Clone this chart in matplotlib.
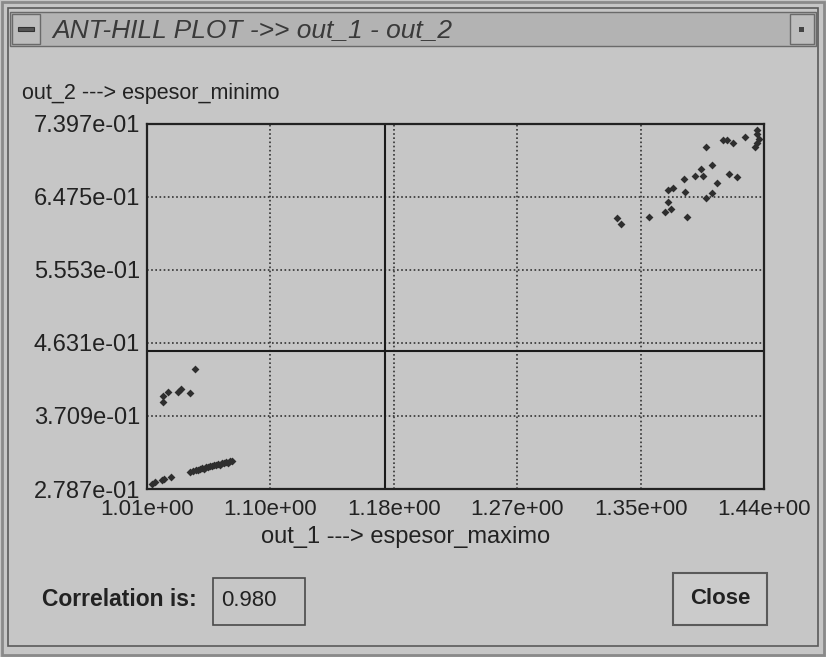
#!/usr/bin/env python3
"""
Ant-hill plot window: out_1 vs out_2 scatter
"""

import matplotlib
matplotlib.use('Agg')
import matplotlib.pyplot as plt
from matplotlib.patches import Rectangle
import numpy as np

# espesor_maximo (out_1) and espesor_minimo (out_2)
out_1 = [
    # lower-left group
    1.0135, 1.0156, 1.0205, 1.0218, 1.0267,
    1.0400, 1.0421, 1.0442, 1.0455, 1.0469, 1.0483, 1.0497, 1.0511, 1.0525,
    1.0539, 1.0553, 1.0567, 1.0581, 1.0595, 1.0609, 1.0623, 1.0637, 1.0651,
    1.0665, 1.0679, 1.0692,
    1.0212, 1.0212, 1.0246, 1.0316, 1.0337, 1.0400, 1.0435,
    # upper-right group
    1.4352, 1.4352, 1.4268, 1.4115, 1.4143, 1.4184, 1.4366, 1.4352, 1.4338,
    1.3996, 1.4038, 1.3961, 1.4155, 1.4212, 1.3975, 1.3920, 1.3843, 1.4073,
    1.3766, 1.3731, 1.3850, 1.4038, 1.3996, 1.3731, 1.3752, 1.3710, 1.3599,
    1.3864, 1.3376, 1.3404,
]
out_2 = [
    0.2850, 0.2875, 0.2900, 0.2913, 0.2938,
    0.3001, 0.3014, 0.3027, 0.3027, 0.3039, 0.3052, 0.3039, 0.3064, 0.3064,
    0.3077, 0.3077, 0.3089, 0.3089, 0.3102, 0.3089, 0.3115, 0.3115, 0.3127,
    0.3115, 0.3140, 0.3140,
    0.3958, 0.3883, 0.4009, 0.4009, 0.4046, 0.3996, 0.4298,
    0.7321, 0.7271, 0.7233, 0.7196, 0.7196, 0.7158, 0.7208, 0.7158, 0.7107,
    0.7107, 0.6881, 0.6830, 0.6767, 0.6729, 0.6742, 0.6742, 0.6704, 0.6654,
    0.6591, 0.6566, 0.6541, 0.6528, 0.6465, 0.6415, 0.6326, 0.6289, 0.6226,
    0.6226, 0.6213, 0.6137,
]

X_MIN, X_MAX = 1.010, 1.440
Y_MIN, Y_MAX = 0.2787, 0.7397
X_MEAN, Y_MEAN = 1.176, 0.4525
CORRELATION = 0.980

TITLE = 'ANT-HILL PLOT ->> out_1 - out_2'
X_LABEL = 'out_1 ---> espesor_maximo'
Y_LABEL = 'out_2 ---> espesor_minimo'

W, H = 826, 657
BG = '#c6c6c6'
INK = '#222222'
FONT = 'Liberation Sans'


def fx(x):
    return x / W


def fy(y):
    return 1 - y / H


def box(fig, x0, y0, x1, y1, **kw):
    fig.patches.append(Rectangle((fx(x0), fy(y1)), (x1 - x0) / W, (y1 - y0) / H,
                                 transform=fig.transFigure, **kw))


def main():
    fig = plt.figure(figsize=(W / 100, H / 100), dpi=100, facecolor=BG)

    # window frame
    box(fig, 2, 2, 824, 655, fill=False, edgecolor='#8a8a8a', linewidth=2)
    box(fig, 8, 8, 818, 646, fill=False, edgecolor='#5a5a5a', linewidth=1.2)
    # title bar
    box(fig, 10, 12, 816, 46, facecolor='#b3b3b3', edgecolor='#6a6a6a', linewidth=1)
    box(fig, 12, 14, 40, 44, facecolor='#bdbdbd', edgecolor='#6a6a6a', linewidth=1)
    box(fig, 18, 27, 34, 31, facecolor='#555555', edgecolor='#333333', linewidth=0.8)
    box(fig, 790, 14, 814, 44, facecolor='#bdbdbd', edgecolor='#6a6a6a', linewidth=1)
    box(fig, 799, 27, 804, 32, facecolor='#444444', edgecolor='none')
    fig.text(fx(52), fy(30), TITLE, fontsize=19, style='italic', color='#3a3a3a',
             family=FONT, va='center', ha='left')

    # plot area
    left, top, right, bottom = 147, 124, 764, 489
    ax = fig.add_axes([fx(left), fy(bottom), (right - left) / W, (bottom - top) / H])
    ax.set_facecolor(BG)
    ax.set_xlim(X_MIN, X_MAX)
    ax.set_ylim(Y_MIN, Y_MAX)

    xt = np.linspace(X_MIN, X_MAX, 6)
    yt = np.linspace(Y_MIN, Y_MAX, 6)
    ax.set_xticks(xt)
    ax.set_yticks(yt)
    ax.set_xticklabels([f'{v:.2e}' for v in xt], fontsize=16, family=FONT, color=INK)
    ax.set_yticklabels([f'{v:.3e}' for v in yt], fontsize=17, family=FONT, color=INK)
    ax.tick_params(axis='x', length=0, pad=7)
    ax.tick_params(axis='y', length=0, pad=5)
    ax.grid(True, linestyle=(0, (1, 1.5)), color='#333333', linewidth=1.2)
    for s in ax.spines.values():
        s.set_color('#222222')
        s.set_linewidth(1.6)

    ax.axvline(X_MEAN, color='#1a1a1a', linewidth=1.5)
    ax.axhline(Y_MEAN, color='#1a1a1a', linewidth=1.5)

    ax.scatter(out_1, out_2, marker='D', s=16, color='#2e2e2e', linewidths=0, zorder=3)

    fig.text(fx(22), fy(93), Y_LABEL, fontsize=15.5, family=FONT, color=INK, va='center')
    fig.text(fx(406), fy(537), X_LABEL, fontsize=17, family=FONT, color=INK,
             va='center', ha='center')

    # correlation field and close button
    fig.text(fx(42), fy(600), 'Correlation is:', fontsize=16.5, family=FONT,
             color=INK, va='center', weight='bold')
    box(fig, 213, 578, 305, 625, facecolor=BG, edgecolor='#4a4a4a', linewidth=1.2)
    fig.text(fx(221), fy(601), f'{CORRELATION:.3f}', fontsize=16, family=FONT,
             color=INK, va='center')
    box(fig, 673, 573, 767, 625, facecolor='#cbcbcb', edgecolor='#5a5a5a', linewidth=1.5)
    fig.text(fx(720), fy(599), 'Close', fontsize=16, family=FONT, color=INK,
             va='center', ha='center', weight='bold')

    fig.savefig('out.png', dpi=100, facecolor=BG)


if __name__ == '__main__':
    main()
